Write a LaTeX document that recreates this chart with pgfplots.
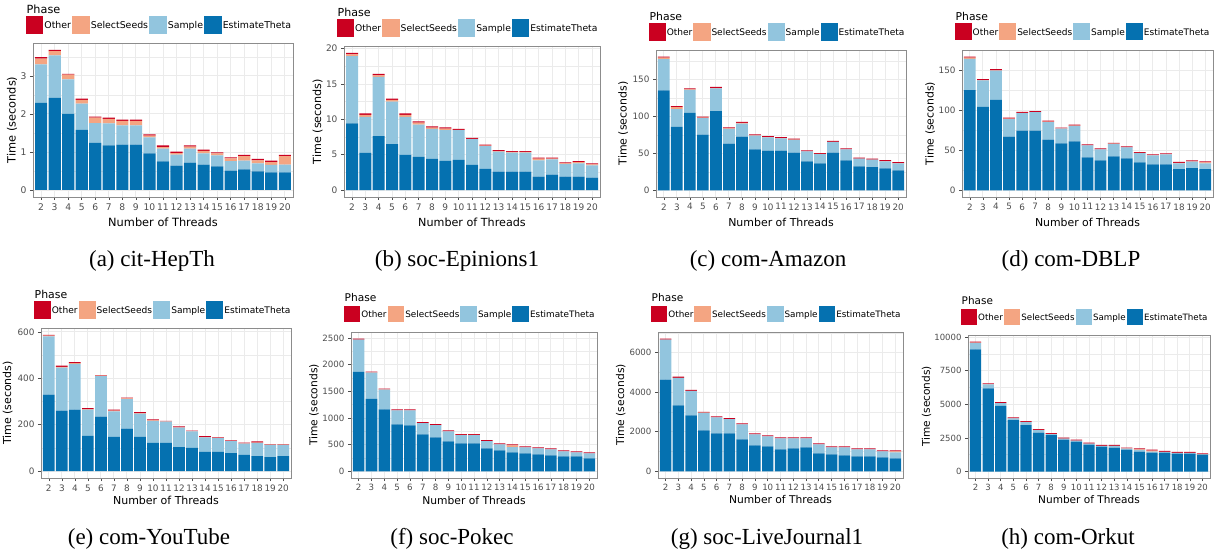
\documentclass[border=0pt]{standalone}
\usepackage{pgfplots}
\pgfplotsset{compat=1.18}
\usepackage{pgfplotstable}
\usepackage{fontspec}
\setmainfont{DejaVu Sans}
\newfontfamily\capfont{Liberation Serif}

\definecolor{cOther}{HTML}{CA0020}
\definecolor{cSeeds}{HTML}{F4A582}
\definecolor{cSample}{HTML}{92C5DE}
\definecolor{cTheta}{HTML}{0571B0}
\definecolor{tickgray}{HTML}{4D4D4D}
\definecolor{gridgray}{HTML}{EBEBEB}

\pgfplotstableread{
t theta sample seeds other
2 2.29 1.01 0.15 0.04
3 2.42 1.12 0.11 0.03
4 2.00 0.91 0.12 0.02
5 1.58 0.69 0.10 0.03
6 1.24 0.52 0.14 0.03
7 1.17 0.58 0.12 0.03
8 1.19 0.51 0.12 0.03
9 1.19 0.51 0.12 0.03
10 0.96 0.42 0.05 0.03
11 0.75 0.34 0.04 0.04
12 0.64 0.29 0.04 0.04
13 0.72 0.37 0.05 0.03
14 0.67 0.29 0.07 0.03
15 0.62 0.29 0.05 0.03
16 0.51 0.25 0.07 0.03
17 0.54 0.23 0.12 0.03
18 0.49 0.21 0.08 0.04
19 0.46 0.20 0.07 0.04
20 0.46 0.21 0.22 0.03
}\tabA
\pgfplotstableread{
t theta sample seeds other
2 9.44 9.49 0.27 0.20
3 5.26 5.11 0.28 0.19
4 7.63 8.37 0.23 0.19
5 6.51 6.00 0.23 0.19
6 4.98 5.39 0.28 0.19
7 4.70 4.56 0.27 0.19
8 4.42 4.23 0.19 0.18
9 4.14 4.33 0.23 0.18
10 4.28 4.19 0.03 0.15
11 3.58 3.63 0.05 0.14
12 3.02 3.21 0.05 0.14
13 2.60 2.84 0.09 0.14
14 2.60 2.70 0.10 0.13
15 2.60 2.70 0.10 0.13
16 1.91 2.28 0.28 0.13
17 2.19 2.14 0.14 0.13
18 1.91 1.76 0.10 0.14
19 1.91 1.86 0.18 0.14
20 1.77 1.72 0.14 0.14
}\tabB
\pgfplotstableread{
t theta sample seeds other
2 135.7 42.4 1.8 1.4
3 86.2 24.1 2.6 1.4
4 104.9 31.3 0.9 1.3
5 75.4 22.4 0.9 1.3
6 107.6 30.8 0.4 1.4
7 63.4 20.1 0.4 1.4
8 72.8 17.8 0.9 1.4
9 55.4 18.7 0.5 1.3
10 54.0 17.9 0.2 1.3
11 54.0 16.5 0.2 1.3
12 51.3 17.0 0.4 1.4
13 39.3 13.4 0.2 1.3
14 36.6 12.5 0.2 1.3
15 51.3 14.3 0.2 1.3
16 40.6 14.8 0.2 1.3
17 32.6 10.3 0.2 1.3
18 31.3 10.2 0.2 1.3
19 29.9 9.4 0.2 1.3
20 27.2 9.4 0.4 1.4
}\tabC
\pgfplotstableread{
t theta sample seeds other
2 125.6 38.9 1.6 1.3
3 104.5 33.1 0.4 1.3
4 113.2 36.8 0.4 1.3
5 67.4 21.9 0.4 1.2
6 74.8 21.9 0.4 1.2
7 74.8 23.1 0.2 1.1
8 63.6 21.9 0.4 1.3
9 58.7 18.6 0.2 1.0
10 61.2 19.4 0.4 1.2
11 41.3 14.9 0.2 1.0
12 37.6 13.6 0.2 1.1
13 42.6 15.7 0.2 1.0
14 40.1 13.6 0.2 1.1
15 35.1 11.6 0.2 1.0
16 32.6 11.2 0.2 1.0
17 32.6 12.4 0.2 1.1
18 26.4 7.5 0.4 1.2
19 27.7 8.3 0.4 1.2
20 26.4 7.5 1.2 1.3
}\tabD
\pgfplotstableread{
t theta sample seeds other
2 330 250 4 3
3 261 185 3 5
4 265 197 3 5
5 152 113 2 4
6 235 174 2 3
7 148 110 3 4
8 183 127 3 4
9 148 100 2 4
10 122 95 2 4
11 122 91 1 3
12 104 84 1 4
13 100 71 1 3
14 83 63 1 4
15 83 59 1 3
16 78 51 1 3
17 70 49 1 3
18 65 57 1 5
19 61 52 1 3
20 65 48 1 3
}\tabE
\pgfplotstableread{
t theta sample seeds other
2 1864 605 2 17
3 1359 493 2 16
4 1160 374 2 16
5 879 262 2 17
6 860 281 2 17
7 692 212 2 17
8 636 231 2 16
9 561 187 2 17
10 524 156 2 16
11 524 156 2 16
12 430 137 2 17
13 393 112 2 17
14 355 100 31 19
15 337 112 2 17
16 318 112 2 17
17 299 112 2 17
18 281 93 2 17
19 281 74 2 17
20 243 94 2 16
}\tabF
\pgfplotstableread{
t theta sample seeds other
2 4639 2016 5 46
3 3328 1395 5 62
4 2824 1243 5 46
5 2067 891 5 45
6 1916 807 5 45
7 1916 723 5 45
8 1613 757 5 45
9 1311 555 5 45
10 1261 504 5 45
11 1109 555 5 45
12 1160 504 5 45
13 1210 454 5 45
14 908 453 5 46
15 857 353 5 46
16 807 403 5 46
17 756 353 5 46
18 756 353 5 46
19 706 302 5 46
20 655 303 50 51
}\tabG
\pgfplotstableread{
t theta sample seeds other
2 9086 494 10 89
3 6198 296 10 64
4 4889 197 10 64
5 3827 124 10 64
6 3457 222 10 64
7 2889 197 10 64
8 2716 74 10 64
9 2370 74 10 65
10 2222 74 10 64
11 2000 74 10 64
12 1852 49 10 64
13 1778 123 10 64
14 1630 74 10 64
15 1481 124 49 74
16 1407 74 75 74
17 1407 50 10 64
18 1333 50 10 64
19 1333 50 10 64
20 1259 25 10 64
}\tabH

\newlength\keyw
\newlength\keyh
\newcommand\setscale[1]{%
  \setlength\keyw{\fpeval{17*#1}pt}%
  \setlength\keyh{\fpeval{8.5*#1}pt}%
  \edef\fleg{\fpeval{9*#1}}%
  \edef\ftick{\fpeval{8.8*#1}}%
  \edef\flab{\fpeval{10.9*#1}}%
  \edef\fphase{\fpeval{10.8*#1}}%
}
\setscale{1}

\pgfplotsset{
  mylegimg/.style={legend image code/.code={\fill[##1] (0pt,-\keyh) rectangle (\keyw,\keyh);}},
  panel/.style={
    scale only axis,
    anchor=south west,
    clip=false,
    ybar stacked,
    bar width=0.9,
    xmin=1.4, xmax=20.6,
    xtick={2,...,20},
    tick pos=left,
    tick align=outside,
    major tick length=3pt,
    minor tick length=0pt,
    tick style={tickgray, line width=0.6pt},
    xmajorgrids, ymajorgrids, yminorgrids,
    major grid style={gridgray, line width=0.9pt},
    minor grid style={gridgray, line width=0.45pt},
    axis line style={black!45, line width=0.7pt},
    ticklabel style={font=\fontsize{\ftick}{\ftick}\selectfont, text=tickgray},
    scaled ticks=false,
    /pgf/number format/assume math mode=true,
    /pgf/number format/1000 sep={},
    label style={font=\fontsize{\flab}{\flab}\selectfont},
    xlabel={Number of Threads},
    ylabel={Time (seconds)},
    legend columns=4,
    reverse legend,
    legend cell align=left,
    legend style={at={(axis description cs:0,1)}, anchor=west, xshift=-7.5pt, yshift=18pt,
      draw=none, fill=none, inner sep=0pt, column sep=0pt, row sep=0pt,
      font=\fontsize{\fleg}{\fleg}\selectfont, nodes={inner sep=1pt, text depth=0pt}},
    mylegimg,
    every axis plot post/.append style={mylegimg},
  },
  row1/.style={xlabel style={at={(axis description cs:0.5,0)}, anchor=center, yshift=-25pt}},
  row2/.style={xlabel style={at={(axis description cs:0.5,0)}, anchor=center, yshift=-22pt}},
}

\newcommand{\phase}{\node[anchor=west, inner sep=0pt, xshift=-6.5pt, yshift=34pt, font=\fontsize{\fphase}{\fphase}\selectfont] at (axis description cs:0,1) {Phase};}
\newcommand{\bars}[1]{%
  \addplot[fill=cTheta, draw=none] table[x=t, y=theta] {#1};
  \addplot[fill=cSample, draw=none] table[x=t, y=sample] {#1};
  \addplot[fill=cSeeds, draw=none] table[x=t, y=seeds] {#1};
  \addplot[fill=cOther, draw=none] table[x=t, y=other] {#1};
  \legend{EstimateTheta,Sample,SelectSeeds,Other}
  \phase
}

\begin{document}
\begin{tikzpicture}
\path[use as bounding box] (0pt,0pt) rectangle (1225pt,552pt);

% (a)
\setscale{1.043}
\begin{axis}[panel, row1, at={(33pt,355pt)}, width=260pt, height=154pt,
  ymin=-0.184, ymax=3.864, ytick={0,1,2,3}, minor ytick={0.5,1.5,2.5,3.5},
  ylabel style={at={(axis description cs:-0.081,0.5)}, anchor=center}]
\bars{\tabA}
\end{axis}

% (b)
\setscale{1.024}
\begin{axis}[panel, row1, at={(344pt,355pt)}, width=256pt, height=151pt,
  ymin=-0.97, ymax=20.37, ytick={0,5,10,15,20}, minor ytick={2.5,7.5,12.5,17.5},
  ylabel style={at={(axis description cs:-0.1035,0.5)}, anchor=center}]
\bars{\tabB}
\end{axis}

% (c)
\setscale{1.004}
\begin{axis}[panel, row1, at={(656pt,355pt)}, width=250pt, height=147pt,
  ymin=-9.07, ymax=190.37, ytick={0,50,100,150}, minor ytick={25,75,125,175},
  ylabel style={at={(axis description cs:-0.131,0.5)}, anchor=center}]
\bars{\tabC}
\end{axis}

% (d)
\setscale{1.0}
\begin{axis}[panel, row1, at={(962pt,355pt)}, width=251pt, height=147pt,
  ymin=-8.37, ymax=175.77, ytick={0,50,100,150}, minor ytick={25,75,125,175},
  ylabel style={at={(axis description cs:-0.127,0.5)}, anchor=center}]
\bars{\tabD}
\end{axis}

% (e)
\setscale{1.008}
\begin{axis}[panel, row2, at={(41pt,74pt)}, width=250pt, height=150pt,
  ymin=-29.35, ymax=616.35, ytick={0,200,400,600}, minor ytick={100,300,500},
  ylabel style={at={(axis description cs:-0.133,0.5)}, anchor=center}]
\bars{\tabE}
\end{axis}

% (f)
\setscale{0.984}
\begin{axis}[panel, row2, at={(351pt,74pt)}, width=246pt, height=146pt,
  ymin=-124.4, ymax=2612.4, ytick={0,500,1000,1500,2000,2500}, minor ytick={250,750,1250,1750,2250},
  ylabel style={at={(axis description cs:-0.150,0.5)}, anchor=center}]
\bars{\tabF}
\end{axis}

% (g)
\setscale{0.98}
\begin{axis}[panel, row2, at={(658pt,74pt)}, width=245pt, height=146pt,
  ymin=-335.3, ymax=7041.3, ytick={0,2000,4000,6000}, minor ytick={1000,3000,5000,7000},
  ylabel style={at={(axis description cs:-0.152,0.5)}, anchor=center}]
\bars{\tabG}
\end{axis}

% (h)
\setscale{0.968}
\begin{axis}[panel, row2, at={(968pt,74pt)}, width=242pt, height=143pt,
  ymin=-484, ymax=10163, ytick={0,2500,5000,7500,10000}, minor ytick={1250,3750,6250,8750},
  ylabel style={at={(axis description cs:-0.171,0.5)}, anchor=center}]
\bars{\tabH}
\end{axis}

% captions
\begin{scope}[every node/.style={font=\capfont\fontsize{23}{27}\selectfont, anchor=base, inner sep=0pt}]
\node at (152pt,285pt) {(a) cit-HepTh};
\node at (457pt,285pt) {(b) soc-Epinions1};
\node at (768pt,285pt) {(c) com-Amazon};
\node at (1071pt,285pt) {(d) com-DBLP};
\node at (149pt,8pt) {(e) com-YouTube};
\node at (452pt,8pt) {(f) soc-Pokec};
\node at (767pt,8pt) {(g) soc-LiveJournal1};
\node at (1068pt,8pt) {(h) com-Orkut};
\end{scope}
\end{tikzpicture}
\end{document}
